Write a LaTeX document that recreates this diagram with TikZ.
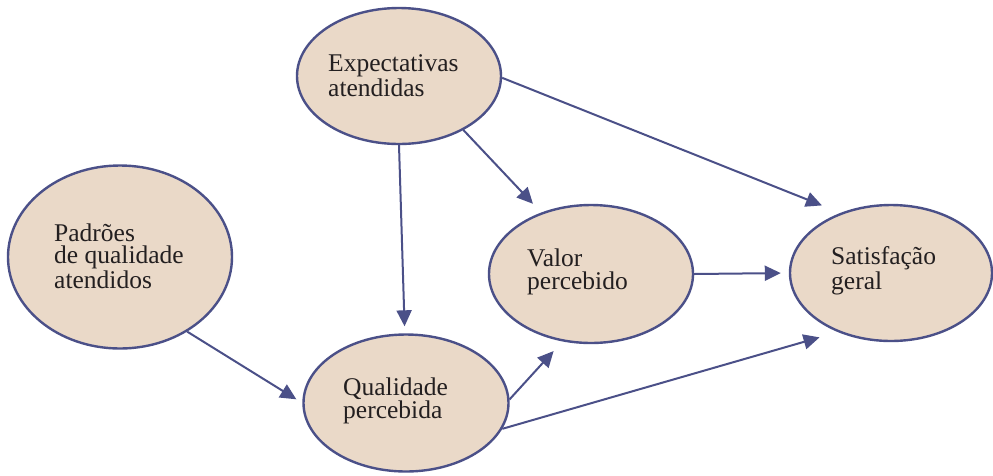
\documentclass[tikz,border=0pt]{standalone}
\usepackage{fontspec}
\setmainfont{Liberation Serif}
\usetikzlibrary{shapes.geometric,arrows.meta}
\definecolor{edgeblue}{HTML}{4B5088}
\definecolor{beige}{HTML}{EAD9C8}
\definecolor{inktext}{HTML}{231F20}
\begin{document}
\begin{tikzpicture}[x=1pt,y=-1pt,
  bubble/.style={ellipse,draw=edgeblue,fill=beige,line width=2.4pt,inner sep=0pt},
  lbl/.style={anchor=base west,align=left,inner sep=0pt,text=inktext,
    font=\fontsize{25.5}{22.5}\selectfont},
  conn/.style={draw=edgeblue,line width=2pt,-{Triangle[length=16pt,width=15pt]}}]
\useasboundingbox (0,0) rectangle (993,475);
% ellipses
\node[bubble,minimum width=204pt,minimum height=136pt] (E) at (399,76) {};
\node[bubble,minimum width=224pt,minimum height=183pt] (P) at (120,257) {};
\node[bubble,minimum width=204pt,minimum height=138pt] (V) at (591,274) {};
\node[bubble,minimum width=202pt,minimum height=136pt] (S) at (891,273) {};
\node[bubble,minimum width=205pt,minimum height=137pt] (Q) at (406,403) {};
% labels (anchored at the baseline of the last line)
\node[lbl] (tE) at (328,96) {Expectativas\\atendidas};
\node[lbl] (tP) at (54,288) {Padrões\\de qualidade\\atendidos};
\node[lbl] (tV) at (527,289) {Valor\\percebido};
\node[lbl] (tS) at (831,289) {Satisfação\\geral};
\node[lbl] (tQ) at (343,418) {Qualidade\\percebida};
% connectors
\draw[conn,shorten >=7pt] (P.-48.7) -- (Q.180);
\draw[conn,shorten >=7pt] (E.-90) -- (Q.91);
\draw[conn,shorten >=12pt] (E.-40.6) -- (V.129);
\draw[conn,shorten >=20pt] (E.-1) -- (S.130.8);
\draw[conn,shorten >=8pt] (V.0) -- (S.180);
\draw[conn,shorten >=13pt] (Q.2) -- (V.247.7);
\draw[conn,shorten >=19pt] (Q.-15.9) -- (S.-132);
\end{tikzpicture}
\end{document}
